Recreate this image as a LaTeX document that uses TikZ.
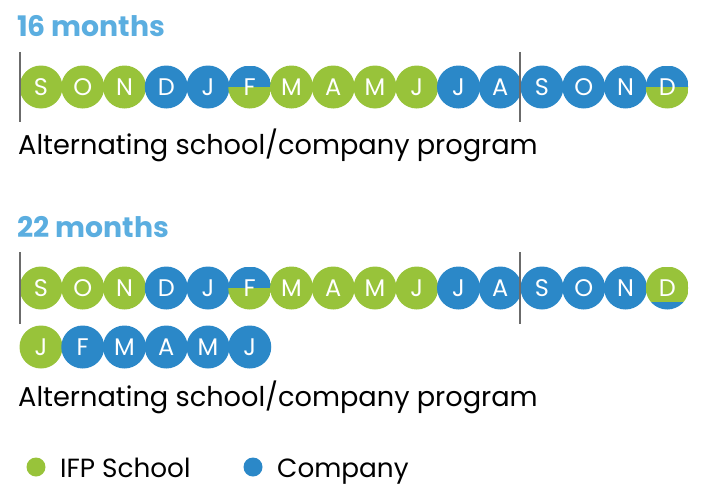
\documentclass[tikz,border=0pt]{standalone}
\usepackage{fontspec}
\setmainfont{Poppins}
\definecolor{grn}{HTML}{98C33A}
\definecolor{blu}{HTML}{2B88C8}
\definecolor{ttl}{HTML}{5BAEE0}
\definecolor{bar}{HTML}{6B6B6B}
\begin{document}
\begin{tikzpicture}[x=1pt,y=-1pt,
  month/.style={circle, minimum size=43pt, inner sep=0pt, text=white, font=\fontsize{24}{24}\selectfont},
  sch/.style={month, fill=grn},
  cmp/.style={month, fill=blu},
  half/.style={month, path picture={
     \fill[blu] (path picture bounding box.north west) rectangle (path picture bounding box.east);
     \fill[grn] (path picture bounding box.west) rectangle (path picture bounding box.south east);}},
  lowsplit/.style={month, path picture={
     \fill[grn] (path picture bounding box.north west) rectangle ([yshift=-14pt]path picture bounding box.east);
     \fill[blu] ([yshift=-14pt]path picture bounding box.west) rectangle (path picture bounding box.south east);}},
  title/.style={anchor=base west, inner sep=0pt, text=ttl, font=\fontsize{28.3}{28.3}\selectfont\bfseries},
  caption/.style={anchor=base west, inner sep=0pt, font=\fontsize{27.2}{27.2}\selectfont},
  legtext/.style={anchor=base west, inner sep=0pt, font=\fontsize{26.3}{26.3}\selectfont},
  dot/.style={circle, minimum size=19pt, inner sep=0pt},
  sep/.style={draw=bar, line width=1.6pt}
]
\useasboundingbox (0,0) rectangle (706,495);

% Row 1
\node[title] (t1) at (17,37) {16 months};
\foreach \L/\S [count=\i from 0] in {S/sch,O/sch,N/sch,D/cmp,J/cmp,F/half,M/sch,A/sch,M/sch,J/sch,J/cmp,A/cmp,S/cmp,O/cmp,N/cmp,D/half}
  \node[\S] (a\i) at ({41+41.75*\i},87) {\L};
\coordinate (b1t) at (20,52); \coordinate (b1b) at (20,122);
\coordinate (b2t) at (520,52); \coordinate (b2b) at (520,122);
\draw[sep] (b1t) -- (b1b);
\draw[sep] (b2t) -- (b2b);
\node[caption] (c1) at (18,154) {Alternating school/company program};

% Row 2
\node[title] (t2) at (17,237) {22 months};
\foreach \L/\S [count=\i from 0] in {S/sch,O/sch,N/sch,D/cmp,J/cmp,F/half,M/sch,A/sch,M/sch,J/sch,J/cmp,A/cmp,S/cmp,O/cmp,N/cmp,D/lowsplit}
  \node[\S] (b\i) at ({41+41.75*\i},288) {\L};
\coordinate (b3t) at (20,252); \coordinate (b3b) at (20,324);
\coordinate (b4t) at (520,252); \coordinate (b4b) at (520,324);
\draw[sep] (b3t) -- (b3b);
\draw[sep] (b4t) -- (b4b);
\foreach \L/\S [count=\i from 0] in {J/sch,F/cmp,M/cmp,A/cmp,M/cmp,J/cmp}
  \node[\S] (c\i) at ({41+41.75*\i},347) {\L};
\node[caption] (c2) at (18,406) {Alternating school/company program};

% Legend
\node[dot, fill=grn] (lg) at (36,467) {};
\node[legtext] (lgt) at (60,477) {IFP School};
\node[dot, fill=blu] (lb) at (253,467) {};
\node[legtext] (lbt) at (277,477) {Company};
\end{tikzpicture}
\end{document}
